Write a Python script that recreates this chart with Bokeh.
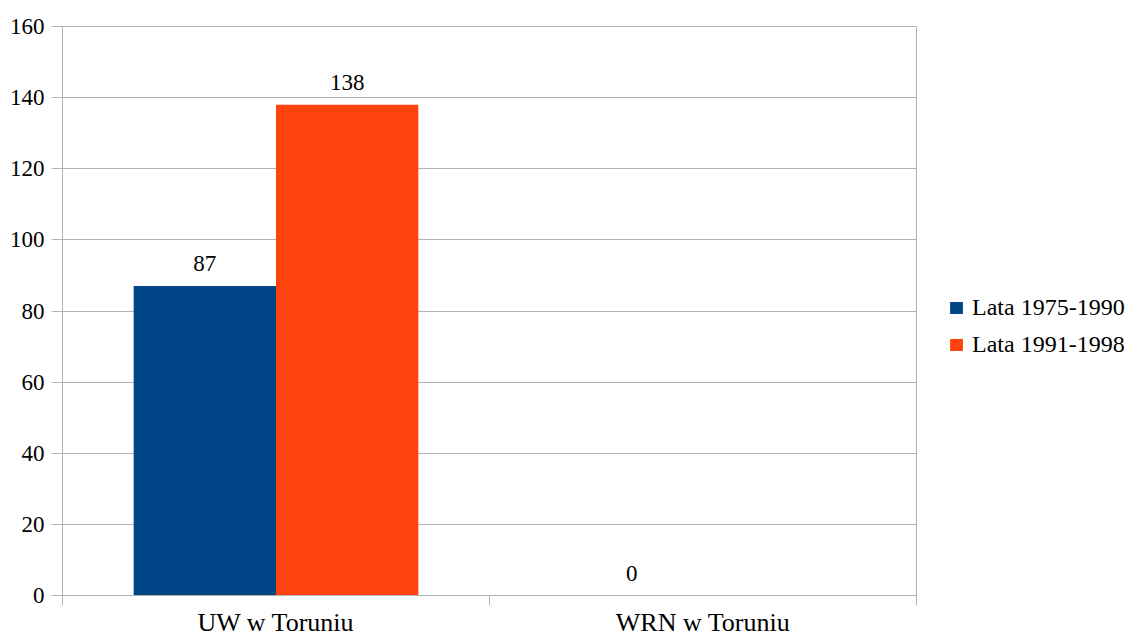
from bokeh.plotting import figure
from bokeh.models import (ColumnDataSource, FixedTicker, Legend, LegendItem,
                          LinearAxis)
from bokeh.layouts import row
from bokeh.embed import file_html
from bokeh.resources import INLINE
from bokeh.core.properties import value

categories = ["UW w Toruniu", "WRN w Toruniu"]
series_names = ["Lata 1975-1990", "Lata 1991-1998"]
s1975 = [87, 0]
s1991 = [138, None]
colors = ["#004586", "#ff420e"]
y_ticks = [0, 20, 40, 60, 80, 100, 120, 140, 160]

FONT = "Liberation Serif, Times New Roman, serif"
FS = "23px"

p = figure(width=917, height=639, x_range=(0, len(categories)), y_range=(0, 160),
           output_backend="svg", toolbar_location=None,
           min_border_left=62, min_border_top=26, min_border_bottom=40,
           min_border_right=1, x_axis_type=None)
p.background_fill_color = "white"
p.border_fill_color = "white"
p.outline_line_color = "#b3b3b3"

# bars
lists = [s1975, s1991]
offsets = [1/3, 2/3]
for k, (vals, col) in enumerate(zip(lists, colors)):
    xs, ys, labs = [], [], []
    for i, v in enumerate(vals):
        if v is None:
            continue
        xs.append(i + offsets[k])
        ys.append(v)
        labs.append(str(v))
    src = ColumnDataSource(dict(x=xs, top=ys, lab=labs))
    p.vbar(x="x", top="top", width=1/3, bottom=0, source=src,
           fill_color=col, line_color=None)
    p.text(x="x", y="top", text="lab", source=src, text_align="center",
           text_baseline="bottom", y_offset=-15, text_font=value(FONT),
           text_font_size=FS, text_color="black")

# x axis with boundary ticks
xaxis = LinearAxis(ticker=FixedTicker(ticks=[i + 0.5 for i in range(len(categories))],
                                      minor_ticks=list(range(len(categories) + 1))))
xaxis.major_label_overrides = {i + 0.5: c for i, c in enumerate(categories)}
xaxis.major_tick_out = 0
xaxis.major_tick_in = 0
xaxis.minor_tick_out = 10
xaxis.minor_tick_in = 0
xaxis.minor_tick_line_color = "#b3b3b3"
xaxis.axis_line_color = "#b3b3b3"
xaxis.major_label_standoff = 2
xaxis.major_label_text_font = FONT
xaxis.major_label_text_font_size = "26px"
xaxis.major_label_text_color = "black"
p.add_layout(xaxis, "below")

yaxis = p.yaxis[0]
yaxis.ticker = FixedTicker(ticks=y_ticks)
yaxis.minor_tick_line_color = None
yaxis.major_tick_out = 11
yaxis.major_tick_in = 0
yaxis.major_tick_line_color = "#b3b3b3"
yaxis.axis_line_color = "#b3b3b3"
yaxis.major_label_standoff = 7
yaxis.major_label_text_font = FONT
yaxis.major_label_text_font_size = FS
yaxis.major_label_text_color = "black"

p.xgrid.visible = False
p.ygrid.grid_line_color = "#b3b3b3"
p.ygrid.ticker = FixedTicker(ticks=y_ticks)

# legend panel (separate figure so it is not clipped)
lg = figure(width=215, height=639, x_range=(0, 1), y_range=(0, 1),
            output_backend="svg", toolbar_location=None,
            min_border_left=0, min_border_right=0, min_border_top=0, min_border_bottom=0,
            x_axis_type=None, y_axis_type=None)
lg.outline_line_color = None
lg.xgrid.visible = False
lg.ygrid.visible = False
items = []
for n, col in zip(series_names, colors):
    r = lg.vbar(x=[-5], top=[0], width=0.1, fill_color=col, line_color=None)
    items.append(LegendItem(label=n, renderers=[r]))
legend = Legend(items=items, location=(31, 237), padding=0, margin=0, spacing=10,
                glyph_width=16, glyph_height=15, label_height=22, label_standoff=8,
                label_text_font=FONT, label_text_font_size="24px",
                label_text_color="black",
                border_line_color=None, background_fill_alpha=0)
lg.add_layout(legend, "center")

layout = row(p, lg)
open("out.html", "w").write(file_html(layout, INLINE))
